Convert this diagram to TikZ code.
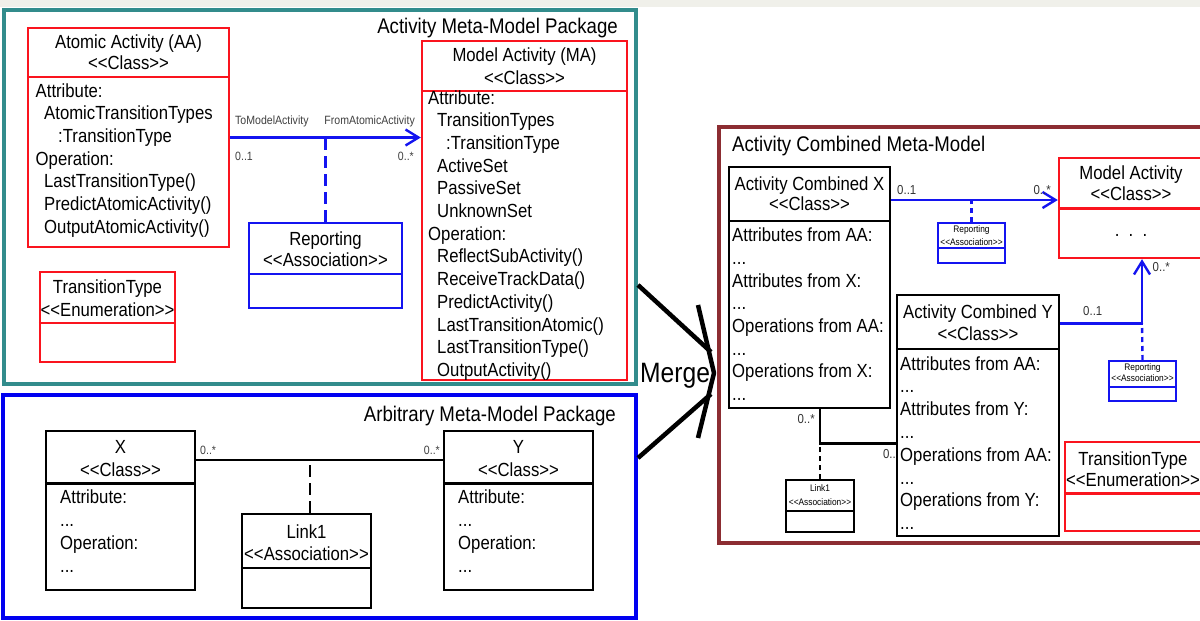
\documentclass[tikz,border=0pt]{standalone}
\usepackage{fontspec}
\setmainfont{Liberation Sans}[FakeStretch=0.88]
\usetikzlibrary{arrows.meta}

\definecolor{pkgteal}{RGB}{50,140,140}
\definecolor{pkgblue}{RGB}{0,0,240}
\definecolor{pkgred}{RGB}{140,45,50}
\definecolor{umlred}{RGB}{250,20,30}
\definecolor{umlblue}{RGB}{20,20,240}
\definecolor{topgrey}{RGB}{240,240,234}

\begin{document}
\begin{tikzpicture}[x=1pt,y=-1pt,
  txt/.style={inner sep=0pt,font=\fontsize{19}{22.7}\selectfont},
  lbl/.style={inner sep=0pt,font=\fontsize{12}{14}\selectfont,black!75},
  cmblbl/.style={inner sep=0pt,font=\fontsize{13}{15}\selectfont,black!80},
  tinytxt/.style={inner sep=0pt,font=\fontsize{9.5}{11}\selectfont},
  pkgtitle/.style={inner sep=0pt,font=\fontsize{21.2}{25}\selectfont},
  umlbox/.style={draw,line width=2.4pt,inner sep=0pt},
  pkgframe/.style={draw,line width=4pt,inner sep=0pt},
  assoc/.style={line width=2.4pt},
  navarrow/.style={-{Straight Barb[length=13pt,width=16pt]}},
  longdash/.style={dash pattern=on 12pt off 6pt},
  shortdash/.style={dash pattern=on 5pt off 4pt}
]
\useasboundingbox (0,0) rectangle (1200,621);
\clip (0,0) rectangle (1200,621);
\fill[white] (0,0) rectangle (1200,621);
\fill[topgrey] (0,0) rectangle (1200,7);

% packages
\node[pkgframe,draw=pkgteal,minimum width=632,minimum height=374] (actpkg) at (320,197) {};
\node[pkgframe,draw=pkgblue,minimum width=633,minimum height=223] (arbpkg) at (319.5,506.5) {};
\node[pkgframe,draw=pkgred,minimum width=491,minimum height=416] (cmbpkg) at (964.5,335) {};
\node[pkgtitle,anchor=base east] (actpkg-t) at (618,33) {Activity Meta-Model Package};
\node[pkgtitle,anchor=base east] (arbpkg-t) at (616,421.5) {Arbitrary Meta-Model Package};
\node[pkgtitle,anchor=base west] (cmbpkg-t) at (732,151.5) {Activity Combined Meta-Model};

%%% Activity Meta-Model Package
\node[umlbox,draw=umlred,minimum width=201,minimum height=219] (aa) at (128.5,137.5) {};
\draw[umlred,line width=2.4pt] (aa.west |- 0,77) -- (aa.east |- 0,77);
\node[txt,anchor=base] (aa-name) at (128.5,48.5) {Atomic Activity (AA)};
\node[txt,anchor=base] (aa-st) at (128.5,69.5) {<{}<Class>{}>};
\foreach \dx/\t [count=\i from 0] in {0/Attribute:, 8.5/AtomicTransitionTypes, 22.5/:TransitionType, 0/Operation:, 8.5/LastTransitionType(), 8.5/PredictAtomicActivity(), 8.5/OutputAtomicActivity()}
  \node[txt,anchor=base west] (aa-\i) at (35.5+\dx,97+22.7*\i) {\t};

\node[umlbox,draw=umlred,minimum width=135,minimum height=90] (tt) at (107.5,317) {};
\draw[umlred,line width=2.4pt] (tt.west |- 0,322.7) -- (tt.east |- 0,322.7);
\node[txt,anchor=base] (tt-name) at (107.5,293) {TransitionType};
\node[txt,anchor=base] (tt-st) at (107.5,316) {<{}<Enumeration>{}>};

\node[umlbox,draw=umlblue,minimum width=153,minimum height=85] (rep) at (325.5,265.5) {};
\draw[umlblue,line width=2.4pt] (rep.west |- 0,274) -- (rep.east |- 0,274);
\node[txt,anchor=base] (rep-name) at (325.5,245) {Reporting};
\node[txt,anchor=base] (rep-st) at (325.5,266.7) {<{}<Association>{}>};

\node[umlbox,draw=umlred,minimum width=205,minimum height=339] (ma) at (524.5,210.5) {};
\draw[umlred,line width=2.4pt] (ma.west |- 0,91) -- (ma.east |- 0,91);
\node[txt,anchor=base] (ma-name) at (524.5,61.7) {Model Activity (MA)};
\node[txt,anchor=base] (ma-st) at (524.5,84) {<{}<Class>{}>};
\foreach \dx/\t [count=\i from 0] in {0/Attribute:, 9/TransitionTypes, 18/:TransitionType, 9/ActiveSet, 9/PassiveSet, 9/UnknownSet, 0/Operation:, 9/ReflectSubActivity(), 9/ReceiveTrackData(), 9/PredictActivity(), 9/LastTransitionAtomic(), 9/LastTransitionType(), 9/OutputActivity()}
  \node[txt,anchor=base west] (ma-\i) at (428+\dx,104+22.7*\i) {\t};

\draw[assoc,umlblue,navarrow] (aa.east) -- (aa.east -| ma.west);
\draw[assoc,umlblue,longdash] (rep.north) -- (rep.north |- aa.east);
\node[lbl,anchor=base west] (aa-role) at (235,124) {ToModelActivity};
\node[lbl,anchor=base east] (ma-role) at (415,124) {FromAtomicActivity};
\node[lbl,anchor=base west] (aa-mult) at (235,160) {0..1};
\node[lbl,anchor=base east] (ma-mult) at (414,160) {0..*};

%%% Arbitrary Meta-Model Package
\node[umlbox,minimum width=149,minimum height=159] (x) at (120.5,510.5) {};
\draw[line width=2.4pt] (x.west |- 0,483.3) -- (x.east |- 0,483.3);
\node[txt,anchor=base] (x-name) at (120.5,453) {X};
\node[txt,anchor=base] (x-st) at (120.5,476) {<{}<Class>{}>};
\foreach \t [count=\i from 0] in {Attribute:, .{}.{}., Operation:, .{}.{}.}
  \node[txt,anchor=base west] (x-\i) at (60,503+23*\i) {\t};

\node[umlbox,minimum width=149,minimum height=159] (y) at (518.5,510.5) {};
\draw[line width=2.4pt] (y.west |- 0,483.3) -- (y.east |- 0,483.3);
\node[txt,anchor=base] (y-name) at (518.5,453) {Y};
\node[txt,anchor=base] (y-st) at (518.5,476) {<{}<Class>{}>};
\foreach \t [count=\i from 0] in {Attribute:, .{}.{}., Operation:, .{}.{}.}
  \node[txt,anchor=base west] (y-\i) at (458,503+23*\i) {\t};

\node[umlbox,minimum width=129,minimum height=94] (link) at (306.5,561) {};
\draw[line width=2.4pt] (link.west |- 0,568) -- (link.east |- 0,568);
\node[txt,anchor=base] (link-name) at (306.5,538.3) {Link1};
\node[txt,anchor=base] (link-st) at (306.5,560) {<{}<Association>{}>};

\coordinate (xy-line) at (310,460);
\draw[assoc] (x.east |- xy-line) -- (y.west |- xy-line);
\draw[assoc,longdash] (xy-line |- link.north) -- (xy-line);
\node[lbl,anchor=base west] (x-mult) at (200,454) {0..*};
\node[lbl,anchor=base east] (y-mult) at (440,454) {0..*};

%%% Merge
\coordinate (merge-tip) at (714,373);
\draw[line width=4.5pt] (actpkg.east |- 0,285) -- (711,352);
\draw[line width=4.5pt] (arbpkg.east |- 0,458) -- (711,394);
\draw[line width=4.5pt,line join=round] (698,305) -- (merge-tip) -- (698,438);
\node[inner sep=0pt,anchor=base west,font=\fontsize{28}{30}\selectfont] (merge) at (640,382) {Merge};

%%% Activity Combined Meta-Model
\node[umlbox,minimum width=161,minimum height=241] (cx) at (809.5,287.5) {};
\draw[line width=2.4pt] (cx.west |- 0,221) -- (cx.east |- 0,221);
\node[txt,anchor=base] (cx-name) at (809.5,190) {Activity Combined X};
\node[txt,anchor=base] (cx-st) at (809.5,210.7) {<{}<Class>{}>};
\foreach \t [count=\i from 0] in {Attributes from AA:, .{}.{}., Attributes from X:, .{}.{}., Operations from AA:, .{}.{}., Operations from X:, .{}.{}.}
  \node[txt,anchor=base west] (cx-\i) at (732,241.7+22.7*\i) {\t};

\node[umlbox,minimum width=162,minimum height=241] (cy) at (978,415.5) {};
\draw[line width=2.4pt] (cy.west |- 0,349) -- (cy.east |- 0,349);
\node[txt,anchor=base] (cy-name) at (978,318.3) {Activity Combined Y};
\node[txt,anchor=base] (cy-st) at (978,340) {<{}<Class>{}>};
\foreach \t [count=\i from 0] in {Attributes from AA:, .{}.{}., Attributes from Y:, .{}.{}., Operations from AA:, .{}.{}., Operations from Y:, .{}.{}.}
  \node[txt,anchor=base west] (cy-\i) at (900,370+22.8*\i) {\t};

\node[umlbox,draw=umlred,minimum width=144,minimum height=100] (cma) at (1131,208) {};
\draw[umlred,line width=2.4pt] (cma.west |- 0,208.3) -- (cma.east |- 0,208.3);
\node[txt,anchor=base] (cma-name) at (1131,179.3) {Model Activity};
\node[txt,anchor=base] (cma-st) at (1131,200.7) {<{}<Class>{}>};
\node[txt,anchor=base] (cma-dots) at (1131,236.7) {.\ \ .\ \ .};

\node[umlbox,draw=umlred,minimum width=136,minimum height=89] (ctt) at (1133,486.5) {};
\draw[umlred,line width=2.4pt] (ctt.west |- 0,493.3) -- (ctt.east |- 0,493.3);
\node[txt,anchor=base] (ctt-name) at (1133,465) {TransitionType};
\node[txt,anchor=base] (ctt-st) at (1133,486.7) {<{}<Enumeration>{}>};

\node[umlbox,draw=umlblue,line width=2pt,minimum width=67,minimum height=40] (rep1) at (971.5,243) {};
\draw[umlblue,line width=2pt] (rep1.west |- 0,248.3) -- (rep1.east |- 0,248.3);
\node[tinytxt,anchor=base] (rep1-name) at (971.5,232.3) {Reporting};
\node[tinytxt,anchor=base] (rep1-st) at (971.5,245) {<{}<Association>{}>};

\node[umlbox,draw=umlblue,line width=2pt,minimum width=67,minimum height=40] (rep2) at (1142.5,381) {};
\draw[umlblue,line width=2pt] (rep2.west |- 0,387) -- (rep2.east |- 0,387);
\node[tinytxt,anchor=base] (rep2-name) at (1142.5,370) {Reporting};
\node[tinytxt,anchor=base] (rep2-st) at (1142.5,381.7) {<{}<Association>{}>};

\node[umlbox,line width=2pt,minimum width=68,minimum height=52] (clink) at (820,506) {};
\draw[line width=2pt] (clink.west |- 0,511) -- (clink.east |- 0,511);
\node[tinytxt,anchor=base] (clink-name) at (820,491.7) {Link1};
\node[tinytxt,anchor=base] (clink-st) at (820,505) {<{}<Association>{}>};

% combined connectors
\coordinate (rep1-line) at (971.5,200);
\draw[assoc,umlblue,navarrow] (cx.east |- rep1-line) -- (cma.west |- rep1-line);
\draw[assoc,umlblue,shortdash] (rep1.north) -- (rep1-line);
\node[cmblbl,anchor=base west] (cx-mult) at (897,194) {0..1};
\node[cmblbl,anchor=base east] (cma-mult) at (1051,194) {0..*};

\coordinate (rep2-bend) at (1142,323.3);
\draw[assoc,umlblue,navarrow] (cy.east |- rep2-bend) -- (rep2-bend) -- (rep2-bend |- cma.south);
\draw[assoc,umlblue,shortdash] (rep2.north) -- (rep2-bend);
\node[cmblbl,anchor=base west] (cy-mult) at (1083,315) {0..1};
\node[cmblbl,anchor=base west] (cma-mult2) at (1152.5,271.7) {0..*};

\coordinate (clink-bend) at (820,443.3);
\draw[assoc] (cx.south -| clink-bend) -- (clink-bend) -- (clink-bend -| cy.west);
\draw[assoc,shortdash] (clink.north) -- (clink-bend);
\node[cmblbl,anchor=base east] (cx-mult2) at (815,423) {0..*};
\node[cmblbl,anchor=base east] (cy-mult2) at (896,458) {0..};
\end{tikzpicture}
\end{document}
